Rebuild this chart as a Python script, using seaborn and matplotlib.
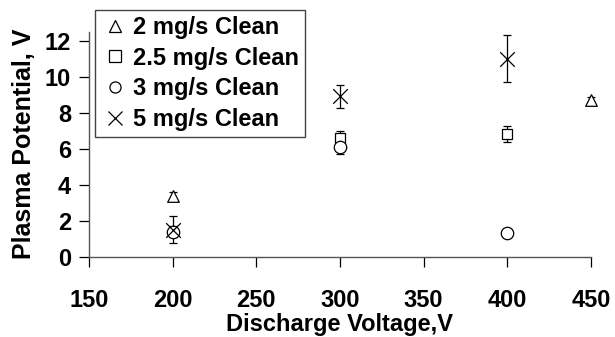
import matplotlib
matplotlib.use("Agg")
import matplotlib.pyplot as plt
import seaborn as sns
import pandas as pd
from matplotlib.lines import Line2D

series = ["2 mg/s Clean", "2.5 mg/s Clean", "3 mg/s Clean", "5 mg/s Clean"]
v_2 = [200, 450]
p_2 = [3.4, 8.7]
e_2 = [0.2, 0.2]
v_25 = [300, 400]
p_25 = [6.6, 6.8]
e_25 = [0.4, 0.45]
v_3 = [200, 300, 400]
p_3 = [1.4, 6.1, 1.3]
e_3 = [0.3, 0.4, 0.2]
v_5 = [200, 300, 400]
p_5 = [1.5, 8.9, 11.0]
e_5 = [0.75, 0.65, 1.3]
x_ticks = [150, 200, 250, 300, 350, 400, 450]
y_ticks = [0, 2, 4, 6, 8, 10, 12]

sns.set_theme(style="white")
plt.rcParams['font.family'] = ['Liberation Sans', 'DejaVu Sans']
plt.rcParams['font.weight'] = 'bold'
for k in ["text.color", "axes.labelcolor", "xtick.color", "ytick.color"]:
    plt.rcParams[k] = "black"

frames = []
for name, v, p, e in zip(series, [v_2, v_25, v_3, v_5], [p_2, p_25, p_3, p_5], [e_2, e_25, e_3, e_5]):
    frames.append(pd.DataFrame({"series": name, "V": v, "P": p, "err": e}))
df = pd.concat(frames, ignore_index=True)

markers = {"2 mg/s Clean": "^", "2.5 mg/s Clean": "s", "3 mg/s Clean": "o", "5 mg/s Clean": "x"}
sizes = {"2 mg/s Clean": 70, "2.5 mg/s Clean": 60, "3 mg/s Clean": 80, "5 mg/s Clean": 110}

fig = plt.figure(figsize=(6.15, 3.37), dpi=100)
ax = fig.add_axes([89/615, 1 - 256.7/337, (591-89)/615, 12.5*18/337])

for name in series:
    sub = df[df["series"] == name]
    eb = ax.errorbar(sub["V"], sub["P"], yerr=sub["err"], fmt="none", ecolor="black",
                     elinewidth=0.9, capsize=3, capthick=0.9, zorder=2)
    for art in eb.lines[1] + eb.lines[2]:
        art.set_clip_on(False)
    if markers[name] == "x":
        sns.scatterplot(data=sub, x="V", y="P", marker="x", s=sizes[name], color="black",
                        linewidth=0.9, ax=ax, zorder=3, legend=False, clip_on=False)
    else:
        sns.scatterplot(data=sub, x="V", y="P", marker=markers[name], s=sizes[name],
                        facecolor="white", edgecolor="black", linewidth=0.9, ax=ax,
                        zorder=3, legend=False, clip_on=False)

ax.set_xlim(150, 450)
ax.set_ylim(0, 12.5)
ax.set_xticks(x_ticks)
ax.set_yticks(y_ticks)
ax.tick_params(axis="both", labelsize=17, length=7, width=0.9, color="black",
               direction="out", bottom=True, left=True)
ax.tick_params(axis="x", pad=16)
ax.tick_params(axis="y", pad=6)
for lab in ax.get_xticklabels() + ax.get_yticklabels():
    lab.set_fontweight("bold")
for s in ["top", "right"]:
    ax.spines[s].set_visible(False)
for s in ["left", "bottom"]:
    ax.spines[s].set_color("#555555")
    ax.spines[s].set_linewidth(1.0)

ax.set_xlabel("Discharge Voltage,V", fontsize=17, fontweight="bold", labelpad=1)
ax.set_ylabel("Plasma Potential, V", fontsize=18, fontweight="bold", labelpad=6)

handles = []
for name in series:
    m = markers[name]
    if m == "x":
        h = Line2D([], [], marker="x", color="black", linestyle="none", markersize=10, markeredgewidth=0.9)
    else:
        h = Line2D([], [], marker=m, markerfacecolor="white", markeredgecolor="black",
                   linestyle="none", markersize=8, markeredgewidth=0.9)
    handles.append(h)
leg = fig.legend(handles, series, loc="upper left", bbox_to_anchor=(95/615, 1 - 10/337),
                 frameon=True, fancybox=False, edgecolor="#444444", framealpha=1,
                 prop={"size": 17, "weight": "bold"}, handletextpad=0.15, handlelength=1.2,
                 borderpad=0.25, labelspacing=0.33, borderaxespad=0)
leg.get_frame().set_linewidth(1.0)

fig.savefig("out.png", dpi=100)
